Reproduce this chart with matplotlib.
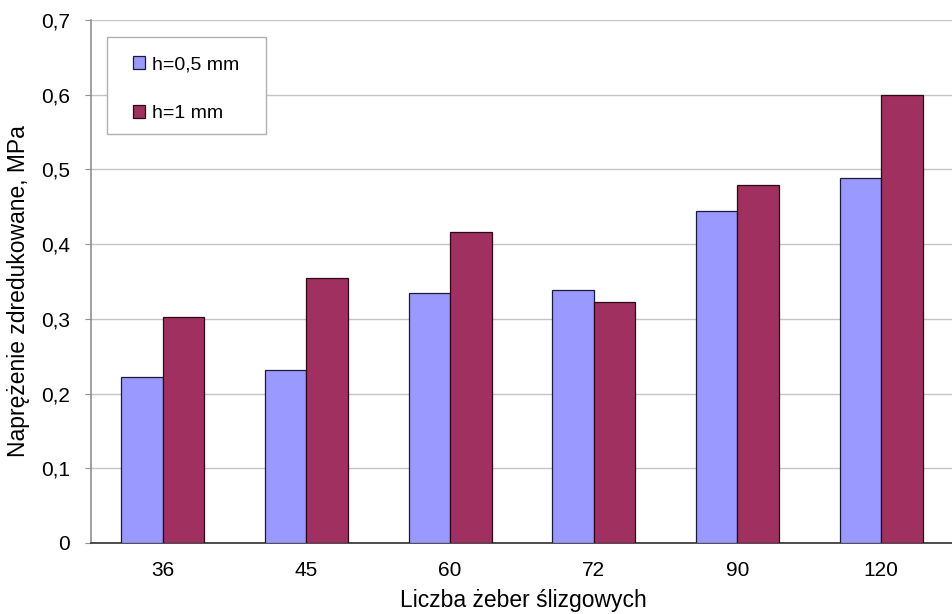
import numpy as np
import matplotlib
matplotlib.use("Agg")
import matplotlib.pyplot as plt
from matplotlib.patches import Rectangle
from matplotlib.ticker import FuncFormatter

plt.rcParams['font.family'] = ['Liberation Sans', 'DejaVu Sans']

categories = ["36", "45", "60", "72", "90", "120"]
h05 = [0.222, 0.232, 0.334, 0.338, 0.445, 0.488]
h1 = [0.302, 0.355, 0.416, 0.323, 0.479, 0.600]
series_labels = ["h=0,5 mm", "h=1 mm"]

W, H = 953, 614
fig = plt.figure(figsize=(W / 100, H / 100), dpi=100)
ax = fig.add_axes([91 / W, 1 - 543 / H, (W - 91) / W, (543 - 20) / H])

x = np.arange(len(categories))
w = 0.29
ax.bar(x - w / 2, h05, w, color="#9999FF", edgecolor="#1a1a3a", linewidth=0.9,
       label=series_labels[0], zorder=3)
ax.bar(x + w / 2, h1, w, color="#A0305F", edgecolor="#2a0a14", linewidth=0.9,
       label=series_labels[1], zorder=3)

ax.set_xlim(-0.5, len(categories) - 0.5)
ax.set_ylim(0, 0.7)
ax.set_yticks(np.arange(0, 0.71, 0.1))
ax.yaxis.set_major_formatter(FuncFormatter(
    lambda v, p: "0" if abs(v) < 1e-9 else f"{v:.1f}".replace(".", ",")))
ax.set_xticks(x)
ax.set_xticklabels(categories)

ax.grid(axis="y", color="#c4c4c4", linewidth=1.0, zorder=0)
ax.set_axisbelow(True)
for s in ("top", "right"):
    ax.spines[s].set_visible(False)
ax.spines["left"].set_color("#909090")
ax.spines["left"].set_linewidth(1.2)
ax.spines["bottom"].set_color("#303030")
ax.spines["bottom"].set_linewidth(1.2)

ax.tick_params(axis="y", length=4, color="#909090", labelsize=15, pad=11)
ax.tick_params(axis="x", length=0, labelsize=15, pad=13)

ax.set_ylabel("Naprężenie zdredukowane, MPa", fontsize=16.5, va="center")
ax.yaxis.set_label_coords(19 / W, 1 - 291.5 / H, transform=fig.transFigure)
ax.set_xlabel("Liczba żeber ślizgowych", fontsize=16.5, va="center")
ax.xaxis.set_label_coords(523 / W, 1 - 601 / H, transform=fig.transFigure)

# legend box drawn as its own patch, entries placed inside it
ax.add_patch(Rectangle((107 / W, 1 - 134 / H), (266 - 107) / W, (134 - 37) / H,
                       transform=fig.transFigure, facecolor="white",
                       edgecolor="#b0b0b0", linewidth=1.0, zorder=4,
                       clip_on=False))
leg = ax.legend(loc="upper left", bbox_to_anchor=(114 / W, 1 - 37 / H),
                bbox_transform=fig.transFigure, fontsize=14, frameon=False,
                handlelength=0.62, handleheight=0.62, handletextpad=0.32,
                labelspacing=1.62, borderpad=1.0, borderaxespad=0.0)
leg.set_zorder(6)

fig.savefig("out.png", dpi=100)
